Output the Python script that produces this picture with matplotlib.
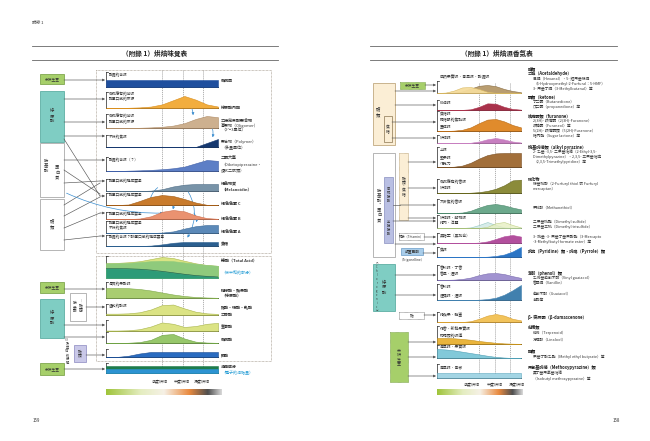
import numpy as np
import matplotlib
matplotlib.use("Agg")
import matplotlib.pyplot as plt
from matplotlib.patches import Rectangle, FancyArrowPatch
from matplotlib.colors import LinearSegmentedColormap

plt.rcParams['font.family'] = ['Noto Sans CJK TC', 'DejaVu Sans']

# ---------------- data ----------------
ROAST = [0.0, 0.1, 0.2, 0.3, 0.4, 0.5, 0.6, 0.7, 0.8, 0.9, 1.0]
ROAST_LABELS = ['淺度烘焙', '中度烘焙', '深度烘焙']
ROAST_MARKS = [0.5, 0.69, 0.87]

# left page (taste) relative intensities
caffeine      = [1, 1, 1, 1, 1, 1, 1, 1, 1, 1, 1]
cga_lactone   = [0, 0, 0.02, 0.05, 0.12, 0.3, 0.65, 1.0, 0.7, 0.3, 0.12]
oligomer      = [0, 0, 0, 0.02, 0.05, 0.1, 0.2, 0.4, 0.75, 1.0, 0.9]
polymer       = [0, 0, 0, 0, 0, 0, 0, 0, 0, 0.5, 1.0]
diketopip     = [0, 0, 0.03, 0.06, 0.1, 0.16, 0.25, 0.4, 0.7, 1.0, 0.92]
melanoidin    = [0, 0, 0, 0, 0.05, 0.25, 0.65, 0.9, 1, 1, 1]
pigment_c     = [0, 0, 0.05, 0.4, 0.8, 1.0, 0.9, 0.6, 0.25, 0.02, 0]
pigment_b     = [0, 0, 0, 0.05, 0.3, 0.8, 1.0, 0.85, 0.4, 0.1, 0.02]
pigment_a     = [0, 0, 0, 0, 0, 0.05, 0.2, 0.55, 0.85, 1, 1]
caramel       = [0, 0, 0, 0, 0.1, 0.4, 0.8, 1, 1, 1, 1]
acid_neutral  = [0.45, 0.45, 0.44, 0.42, 0.38, 0.32, 0.25, 0.18, 0.12, 0.08, 0.05]
acid_mid      = [0.7, 0.7, 0.72, 0.76, 0.8, 0.82, 0.8, 0.74, 0.68, 0.62, 0.58]
acid_total    = [0.7, 0.72, 0.75, 0.8, 0.9, 1.0, 0.95, 0.82, 0.7, 0.62, 0.58]
citric_malic  = [1, 1, 0.98, 0.9, 0.75, 0.55, 0.35, 0.2, 0.1, 0.05, 0.02]
acetic_formic = [0.12, 0.12, 0.15, 0.25, 0.5, 0.9, 0.95, 0.6, 0.3, 0.15, 0.1]
quinic        = [0.05, 0.05, 0.08, 0.2, 0.5, 0.95, 0.8, 0.45, 0.55, 0.8, 0.9]
caffeic       = [0, 0, 0.03, 0.1, 0.35, 0.9, 1.0, 0.5, 0.15, 0.05, 0.02]
phosphoric    = [0, 0.02, 0.25, 0.7, 1, 1, 1, 1, 1, 1, 1]
oil_blue      = [0.55, 0.55, 0.55, 0.55, 0.55, 0.55, 0.55, 0.55, 0.55, 0.55, 0.55]
oil_green     = [1, 1, 1, 1, 1, 1, 1, 1, 1, 1, 1]

# right page (aroma) relative intensities
fruit_yellow  = [0, 0.05, 0.3, 0.7, 0.75, 0.5, 0.15, 0.03, 0, 0, 0]
fruit_tan     = [0, 0, 0.05, 0.2, 0.55, 0.9, 1.0, 0.85, 0.5, 0.25, 0.1]
butter        = [0, 0, 0, 0.02, 0.1, 0.45, 0.95, 0.9, 0.45, 0.15, 0.05]
caramel_ar    = [0, 0, 0.03, 0.1, 0.3, 0.65, 0.95, 1, 0.8, 0.5, 0.3]
roasty        = [0, 0, 0, 0, 0.05, 0.3, 0.75, 1, 0.7, 0.3, 0.1]
nutty         = [0, 0, 0.02, 0.1, 0.3, 0.6, 0.85, 0.97, 1, 1, 1]
coffee_ar     = [0, 0, 0, 0, 0.02, 0.06, 0.15, 0.3, 0.55, 0.9, 0.95]
barley        = [0, 0, 0, 0.05, 0.25, 0.6, 0.9, 1, 0.85, 0.6, 0.4]
meaty_a       = [0, 0, 0, 0, 0.1, 0.5, 1, 0.5, 0.1, 0, 0]
meaty_b       = [0, 0, 0, 0, 0, 0, 0.2, 0.8, 1, 0.5, 0.1]
blackcurrant  = [0, 0, 0, 0, 0, 0.05, 0.2, 0.5, 0.85, 1, 0.8]
burnt         = [0, 0, 0, 0, 0, 0, 0.03, 0.1, 0.25, 0.55, 1]
spice         = [0, 0.02, 0.05, 0.15, 0.35, 0.7, 0.95, 1, 0.85, 0.55, 0.3]
smoky         = [0, 0, 0, 0, 0, 0.02, 0.06, 0.15, 0.35, 0.65, 1]
honey         = [0, 0, 0, 0, 0.1, 0.4, 0.8, 1, 0.8, 0.4, 0.2]
floral        = [1, 1, 0.95, 0.85, 0.7, 0.5, 0.35, 0.2, 0.1, 0.05, 0.03]
grassy_fruit  = [1, 0.95, 0.85, 0.7, 0.55, 0.4, 0.25, 0.12, 0.05, 0, 0]
green_pepper  = [1, 1, 1, 1, 1, 1, 1, 1, 1, 1, 1]

# ---------------- figure ----------------
W, H = 650, 441
fig = plt.figure(figsize=(6.5, 4.41), dpi=100)
ov = fig.add_axes([0, 0, 1, 1])
ov.set_xlim(0, W); ov.set_ylim(H, 0); ov.axis('off')

FS = 2.8


def txt(x, y, s, fs=FS, bold=False, color='#333333', ha='left', **kw):
    ov.text(x, y, s, fontsize=fs, fontweight='bold' if bold else 'normal',
            color=color, ha=ha, va='center', **kw)


def vtxt(x, y, s, fs=FS, color='#333333', bold=False):
    ov.text(x, y, '\n'.join(s), fontsize=fs, color=color, ha='center', va='center',
            linespacing=1.0, fontweight='bold' if bold else 'normal')


def box(x0, y0, x1, y1, fc='white', ec='#777777', ls='-', lw=0.5):
    ov.add_patch(Rectangle((x0, y0), x1 - x0, y1 - y0, fc=fc, ec=ec, ls=ls, lw=lw, zorder=1))


def arrow(x0, y0, x1, y1, color='#555555', lw=0.45, rad=0.0):
    ov.add_patch(FancyArrowPatch((x0, y0), (x1, y1), arrowstyle='-|>', mutation_scale=3.5,
                                 lw=lw, color=color, shrinkA=0, shrinkB=0,
                                 connectionstyle=f'arc3,rad={rad}', zorder=3))


def line(xs, ys, color='#555555', lw=0.45):
    ov.plot(xs, ys, color=color, lw=lw, zorder=2)


def strip_ax(x0, x1, yb, h):
    ax = fig.add_axes([x0 / W, (H - yb) / H, (x1 - x0) / W, h / H])
    ax.set_xlim(0, 1); ax.set_ylim(0, 1); ax.axis('off')
    ax.patch.set_alpha(0)
    return ax


def frame(x0, x1, yb, ytop):
    line([x0, x0], [ytop, yb], color='#222222', lw=0.5)
    line([x0, x0 + 1.5], [ytop, ytop], color='#222222', lw=0.5)
    line([x0, x1], [yb, yb], color='#222222', lw=0.7)


def header(x0, x1, y_top, title, xc):
    line([x0, x1], [y_top, y_top], color='#666666', lw=0.6)
    line([x0, x1], [y_top + 14, y_top + 14], color='#666666', lw=0.6)
    txt(xc, y_top + 7, title, fs=4.8, bold=True, ha='center', color='#222222')


# ======================= LEFT PAGE =======================
txt(32, 23, '附錄 1', fs=3.0)
header(32, 278, 46, '（附錄 1）烘焙味覺表', 155)

LX0, LX1 = 106, 218
box(96, 70, 271, 253, fc='none', ec='#9a8f80', ls=(0, (1, 1)), lw=0.5)
box(96, 256, 271, 361, fc='none', ec='#9a8f80', ls=(0, (1, 1)), lw=0.5)

for m in ROAST_MARKS:
    xm = LX0 + m * (LX1 - LX0)
    ov.plot([xm, xm], [70, 373], color='#777777', lw=0.4, ls=(0, (2, 1.5)), zorder=0)


def lstrip(yb, h, layers, ytop):
    ax = strip_ax(LX0, LX1, yb, h)
    for base, vals, col, ec in layers:
        ax.fill_between(ROAST, base, vals, color=col, ec=ec if ec else col, lw=0.4)
    frame(LX0, LX1, yb, ytop)
    return ax

lstrip(87, 7, [(0, caffeine, '#1f4f9e', None)], 72)
lstrip(108, 12, [(0, cga_lactone, '#f2ad3e', '#d98e1c')], 92)
lstrip(128, 12, [(0, oligomer, '#cdb08f', '#b08c66')], 114)
lstrip(147, 8, [(0, polymer, '#16386f', None)], 135)
lstrip(171, 11, [(0, diketopip, '#5d7fc6', '#3f5fa8')], 157)
lstrip(191, 7, [(0, melanoidin, '#7893a8', '#4f6d86')], 179)
lstrip(205, 10, [(0, pigment_c, '#c97b2c', '#a35c15')], 193)
lstrip(219, 9, [(0, pigment_b, '#ea9270', '#cf6f4d')], 212)
lstrip(233, 8, [(0, pigment_a, '#5b89b8', '#3b6a98')], 221)
lstrip(246, 4, [(0, caramel, '#2b5f8f', None)], 235)
ax = lstrip(278, 21, [(0, acid_total, '#d9e483', '#aab84a'),
                      (0, acid_mid, '#8fca7c', None),
                      (0, acid_neutral, '#2d9b78', None)], 256)
ax.plot(ROAST, acid_neutral, color='#1f5a4a', lw=0.4)
lstrip(298, 10, [(0, citric_malic, '#a9cd70', '#7ea84a')], 282)
lstrip(315, 11, [(0, acetic_formic, '#dbe384', '#a7b44a')], 304)
lstrip(331, 9, [(0, quinic, '#dbe384', '#a7b44a')], 320)
lstrip(343, 9, [(0, caffeic, '#97c76b', '#6ea244')], 332)
lstrip(357, 5, [(0, phosphoric, '#2a6cc0', '#1c4e94')], 349)
lstrip(373, 7, [(0, oil_green, '#1e7c4c', None), (0, oil_blue, '#2d93d2', None)], 363)

left_strip_labels = [
    (75, '酸澀的苦味'), (94, '咖啡應有的苦味'), (99, '醇厚口感的來源'),
    (116, '咖啡應有的苦味'), (122, '醇厚口感的來源'), (137, '不好的焦味'),
    (160, '酸澀的苦味（？）'), (181, '醇厚口感的構成要素'), (195, '醇厚口感的構成要素'),
    (214, '醇厚口感的構成要素'), (223, '醇厚口感的構成要素'), (228, '不好的焦味'),
    (237, '酸澀的苦味？醇厚口感的構成要素'), (284, '清爽的果酸味'), (306, '溫和的酸味'),
]
for y, s in left_strip_labels:
    txt(LX0 + 3, y, s, fs=2.7)

BLUE_T = '#2a9fd6'
left_right_labels = [
    (81, '咖啡因', True, None), (108, '綠原酸內酯', True, None),
    (121, '乙烯兒茶酚聚合物', True, None), (126, '寡聚物（Oligomer）', False, None),
    (131, '（2～3單位）', False, None), (142, '聚合物（Polymer）', False, None),
    (148, '（多量單位）', False, None), (159, '二酮六氫', True, None),
    (165, '（Diketopiperazine、', False, None), (171, '環狀二肽類）', False, None),
    (184, '褐色物質', True, None), (190, '（Melanoidin）', True, None),
    (204, '褐色色素 C', True, None), (219, '褐色色素 B', True, None),
    (232, '褐色色素 A', True, None), (244, '焦糖', True, None),
    (262, '總酸（Total Acid）', True, None), (273, '（被中和的部分）', False, BLUE_T),
    (290, '檸檬酸・蘋果酸', True, None), (296, '（綠原酸）', True, None),
    (307, '醋酸・蟻酸・乳酸', True, None), (315, '乙醇酸', True, None),
    (327, '奎寧酸', True, None), (340, '咖啡酸', True, None), (355, '磷酸', True, None),
    (367, '油脂成分', True, None), (373, '（種子的油脂量）', False, BLUE_T),
]
for y, s, b, c in left_right_labels:
    txt(221, y, s, fs=2.9, bold=b, color=c or '#333333')

GREEN_BOX = '#a6cf6a'
TEAL_BOX = '#7fcdc3'
box(40, 74, 64, 84, fc=GREEN_BOX, ec='#6f9a3a')
txt(52, 79, '未烘生豆', fs=2.7, ha='center')
box(40, 91, 64, 142, fc=TEAL_BOX, ec='#4aa398')
vtxt(52, 116, '綠原酸', fs=3.1)
box(40, 143, 64, 197, fc='white', ec='#999999')
vtxt(46, 165, '胺基酸', fs=3.1); vtxt(57, 172, '蛋白質', fs=3.1)
box(40, 199, 64, 250, fc='white', ec='#999999')
vtxt(52, 224, '醣類', fs=3.1)

arrow(64, 80, 105, 80)
arrow(64, 99, 105, 99)
arrow(64, 122, 105, 122)
arrow(64, 136, 105, 136)
arrow(64, 160, 105, 160)
line([64, 100], [139, 196]); arrow(100, 196, 105, 196)
line([64, 100], [170, 194])
line([64, 100], [183, 181]); arrow(100, 181, 105, 181)
line([64, 100], [205, 183])
line([64, 100], [216, 197])
line([64, 100], [228, 213]); arrow(100, 213, 105, 213)
line([64, 100], [240, 236]); arrow(100, 236, 105, 236)
ov.add_patch(FancyArrowPatch((64, 192), (166, 213), arrowstyle='-|>', mutation_scale=3.5,
                             lw=0.5, color='#3d8fd0', connectionstyle='arc3,rad=0.12', zorder=3))
for (a, b, r) in [((183, 98), (193, 118), -0.3), ((207, 120), (212, 140), -0.3),
                  ((183, 184), (186, 240), -0.35), ((170, 197), (172, 212), -0.3),
                  ((192, 211), (196, 225), -0.3), ((160, 186), (150, 206), 0.3)]:
    ov.add_patch(FancyArrowPatch(a, b, arrowstyle='-|>', mutation_scale=3.5, lw=0.5,
                                 color='#3d8fd0', connectionstyle=f'arc3,rad={r}', zorder=3))

box(40, 282, 64, 293, fc=GREEN_BOX, ec='#6f9a3a')
txt(52, 287.5, '未烘生豆', fs=2.7, ha='center')
arrow(64, 289, 105, 289)
box(70, 293, 86, 321, fc='white', ec='#999999')
vtxt(75, 307, '胺基酸', fs=2.7); vtxt(81, 307, '︱醣類︶', fs=2.7)
arrow(86, 307, 105, 307)
box(40, 299, 64, 338, fc=TEAL_BOX, ec='#4aa398')
vtxt(52, 318, '綠原酸', fs=3.1)
arrow(64, 325, 105, 325)
arrow(64, 337, 105, 337)
vtxt(67, 351, '以及其他的分解', fs=2.3)
box(74, 345, 86, 362, fc='#c9c8e8', ec='#8a88c0')
vtxt(80, 353, '醣類', fs=2.7)
arrow(86, 355, 105, 355)
box(40, 363, 64, 375, fc=GREEN_BOX, ec='#6f9a3a')
txt(52, 369, '未烘生豆', fs=2.7, ha='center')
arrow(64, 369, 105, 369)

for m, s in zip(ROAST_MARKS, ROAST_LABELS):
    txt(LX0 + m * (LX1 - LX0) - 2, 382, s, fs=2.9, ha='center')

cmap = LinearSegmentedColormap.from_list('roast', [
    (0.0, '#9fc43a'), (0.3, '#e4edc0'), (0.5, '#f6f1e6'), (0.72, '#e98a3f'),
    (0.88, '#4f4f4f'), (1.0, '#d9d9d9')])
grad = np.linspace(0, 1, 256).reshape(1, -1)
gax = fig.add_axes([106 / W, (H - 395) / H, 116 / W, 6 / H]); gax.axis('off')
gax.imshow(grad, aspect='auto', cmap=cmap)

txt(33, 420, '159', fs=3.2)

# ======================= RIGHT PAGE =======================
header(370, 617, 46, '（附錄 1）烘焙濕香氣表', 497)
RX0, RX1 = 437, 521
for m in ROAST_MARKS:
    xm = RX0 + m * (RX1 - RX0)
    ov.plot([xm, xm], [83, 378], color='#777777', lw=0.4, ls=(0, (2, 1.5)), zorder=0)


def rstrip(yb, h, layers, ytop):
    ax = strip_ax(RX0, RX1, yb, h)
    for vals, col, ec, a in layers:
        ax.fill_between(ROAST, 0, vals, color=col, ec=ec if ec else col, lw=0.4, alpha=a)
    frame(RX0, RX1, yb, ytop)

rstrip(93, 8, [(fruit_tan, '#b99d70', '#8a6e44', 1), (fruit_yellow, '#f5dc9c', '#d8b860', 0.95)], 81)
rstrip(110, 7, [(butter, '#a9324b', None, 1)], 100)
rstrip(131, 12, [(caramel_ar, '#e08b2c', '#b86a15', 1)], 111)
rstrip(143, 5, [(roasty, '#c77fc0', None, 1)], 135)
rstrip(167, 14, [(nutty, '#a26f3a', '#7a4f22', 1)], 147)
rstrip(193, 14, [(coffee_ar, '#8b8b3a', '#66661c', 1)], 179)
rstrip(213, 9, [(barley, '#6ca98c', '#4c896c', 1)], 199)
rstrip(228, 6, [(meaty_a, '#cfe8e4', '#7fbfb8', 0.8), (meaty_b, '#e6efc2', '#b4c870', 0.8)], 215)
rstrip(243, 8, [(blackcurrant, '#b24f9d', None, 1)], 233)
rstrip(257, 10, [(burnt, '#2b75c5', None, 1)], 247)
rstrip(280, 7, [(spice, '#a193d0', '#7a6cb0', 1)], 265)
rstrip(300, 15, [(smoky, '#4180ae', None, 1)], 284)
rstrip(322, 8, [(honey, '#f2c35b', '#d9a030', 1)], 312)
rstrip(344, 6, [(floral, '#e9b43c', '#c4901a', 1)], 326)
rstrip(358, 9, [(grassy_fruit, '#82c9d9', '#4f9fb5', 1)], 345)
rstrip(378, 5, [(green_pepper, '#a3d5e4', '#5fa9c0', 1)], 364)

right_strip_labels = [
    (77, '成熟果實味・青草味・酸澀味'), (103, '奶油味'), (114, '焦糖味'), (120.5, '楓糖漿的焦甜味'),
    (127, '蛋糕味'), (138, '烘焙味'), (150, '土味'), (157, '堅果味'), (164, '巧克力'),
    (182, '咖啡應有的香味'), (187.5, '烘焙味'), (202, '大麥焦的香味'), (217.5, '烘焙味・動物味'),
    (223, '烤肉・洋蔥'), (236, '黑醋栗（黑加侖）'), (250, '焦味'), (268, '香料味・丁香'),
    (274, '香草・煙味'), (287, '香料味'), (295, '煙燻味・煙味'), (315, '烤蘋果・蜂蜜'),
    (329, '花香・新鮮果實味'), (335.5, '柑橘類的味道'), (347, '青草味・果實味'),
    (367, '青草味・青椒'),
]
for y, s in right_strip_labels:
    txt(RX0 + 3, y, s, fs=2.8)

right_text = [
    (69, '醛類', True), (74, '乙醛（Acetaldehyde）', True),
    (79, '己醛（Hexanal）、5- 羥甲基糠醛', False),
    (84, '（5-Hydroxymethyl-2-Furfural：5-HMF）', False),
    (89, '3- 甲基丁醛（3-Methylbutanal）等', False),
    (97, '酮類（ketone）', True), (102, '丁二酮（Butanedione）', False),
    (107, '戊二酮（propanedione）等', False), (116, '呋喃酮類（furanone）', True),
    (121, '2(3H)- 呋喃酮（2(3H)-Furanone）', False), (126, '呋喃酮（Furaneol）等', False),
    (131, '5(2H)- 呋喃酮類（5(2H)-Furanone）', False), (136, '糖內酯（Sugar lactone）等', False),
    (147, '烷基吡嗪類（alkyl pyrazine）', True),
    (152, '2- 乙基 -3,5- 二甲基吡嗪（2-Ethyl-3,5-', False),
    (157, 'Dimethylpyrazine）、2,3,5- 三甲基吡啶', False),
    (162, '（2,3,5-Trimethylpyridine）等', False),
    (179, '硫化物', True), (184, '糠基硫醇（2-Furfuryl thiol 或 Furfuryl', False),
    (189, 'mercaptan）', False), (208, '甲硫醇（Methanethiol）', False),
    (222, '二甲基硫醚（Dimethyl sulfide）', False), (227, '二甲基三硫（Dimethyl trisulfide）', False),
    (237, '3- 巯基 -3- 甲基丁基甲酸酯（3-Mercapto', False),
    (242, '-3-Methylbutyl formate ester）等', False),
    (251, '吡啶（Pyridine）類、吡咯（Pyrrole）類', True),
    (273, '苯酚（phenol）類', True), (278, '乙烯基愈創木酚（Vinyl guaiacol）', False),
    (283, '香草醛（Vanillin）', False), (294, '愈創木酚（Guaiacol）', False), (300, '苯酚等', False),
    (317, 'β- 突厥酮（β-damascenone）', True), (327, '萜烯類', True),
    (333, '萜烯（Terpenoid）', False), (340, '芳樟醇（Linalool）', False),
    (351, '酯類', True), (357, '甲基丁酸乙酯（Methyl ethyl butyrate）等', False),
    (367, '甲氧基吡嗪（Methoxypyrazine）類', True), (373, '異丁基甲氧基吡嗪', False),
    (379, '（Isobutyl methoxypyrazine）等', False),
]
for y, s, b in right_text:
    if b:
        txt(528, y, s, fs=3.0, bold=True, color='#222222')
    else:
        txt(533, y, s, fs=2.7)

box(373, 83, 395, 145, fc='#fbeed5', ec='#b59a6a')
vtxt(378, 112, '醣類', fs=3.1)
box(384, 116, 392, 142, fc='#fbeed5', ec='#8a7450')
vtxt(388, 129, '焦糖', fs=2.7)
box(400, 82, 425, 89, fc=GREEN_BOX, ec='#6f9a3a', ls=(0, (1, 0.6)))
txt(412.5, 85.5, '未烘生豆', fs=2.7, ha='center')
arrow(425, 85, 436, 85); arrow(395, 91, 436, 91); arrow(395, 105, 436, 105)
arrow(392, 122, 436, 122); arrow(392, 138, 436, 138)

box(373, 153, 395, 257, fc='white', ec='#999999')
vtxt(379, 205, '胺基酸・蛋白質', fs=3.1)
box(399, 153, 408, 220, fc='#fbeed5', ec='#b59a6a', ls=(0, (1, 0.6)))
vtxt(403.5, 186, '醣類・焦糖', fs=2.7)
box(384, 177, 393, 243, fc='#b9bfe3', ec='#8a90c0')
vtxt(388.5, 195, '甲硫胺酸', fs=2.3); vtxt(388.5, 228, '半胱胺酸', fs=2.3)
arrow(408, 162, 436, 162); arrow(408, 188, 436, 188)
line([393, 400], [205, 205]); arrow(400, 205, 436, 205)
arrow(408, 218, 436, 218); arrow(393, 221, 436, 221)
box(399, 233, 424, 240, fc='white', ec='#777777', ls=(0, (1, 0.6)))
txt(411.5, 236.5, '硫胺（Thiamin）', fs=2.3, ha='center')
arrow(424, 237, 436, 237)
arrow(395, 244, 436, 244)
box(401, 248, 423, 255, fc='#a9cdea', ec='#6a9cc8')
txt(412, 251.5, '葫蘆巴鹼', fs=2.7, ha='center')
txt(412, 260, '（Trigonelline）', fs=2.4, ha='center')
arrow(423, 253, 436, 253)

box(373, 264, 395, 311, fc=TEAL_BOX, ec='#4aa398')
vtxt(384, 287, '綠原酸', fs=3.1)
vtxt(377, 287, '︵Chlorogenic︶', fs=1.8)
arrow(395, 275, 436, 275); arrow(395, 295, 436, 295)
box(399, 312, 424, 319, fc='white', ec='#777777', ls=(0, (1, 0.6)))
txt(411.5, 315.5, '醣', fs=2.7, ha='center')
arrow(424, 315, 436, 315)
box(390, 332, 408, 382, fc=GREEN_BOX, ec='#6f9a3a', ls=(0, (1, 0.6)))
vtxt(399, 357, '未烘生豆', fs=2.9)
arrow(408, 342, 436, 342); arrow(408, 357, 436, 357); arrow(408, 376, 436, 376)

for i, s in enumerate(ROAST_LABELS):
    txt(RX0 + ROAST_MARKS[i] * (RX1 - RX0) - 7 + 7 * i, 385, s, fs=2.9, ha='center')
gax2 = fig.add_axes([437 / W, (H - 395) / H, 86 / W, 6 / H]); gax2.axis('off')
gax2.imshow(grad, aspect='auto', cmap=cmap)

txt(613, 420, '158', fs=3.2)

fig.savefig('out.png', dpi=100)
